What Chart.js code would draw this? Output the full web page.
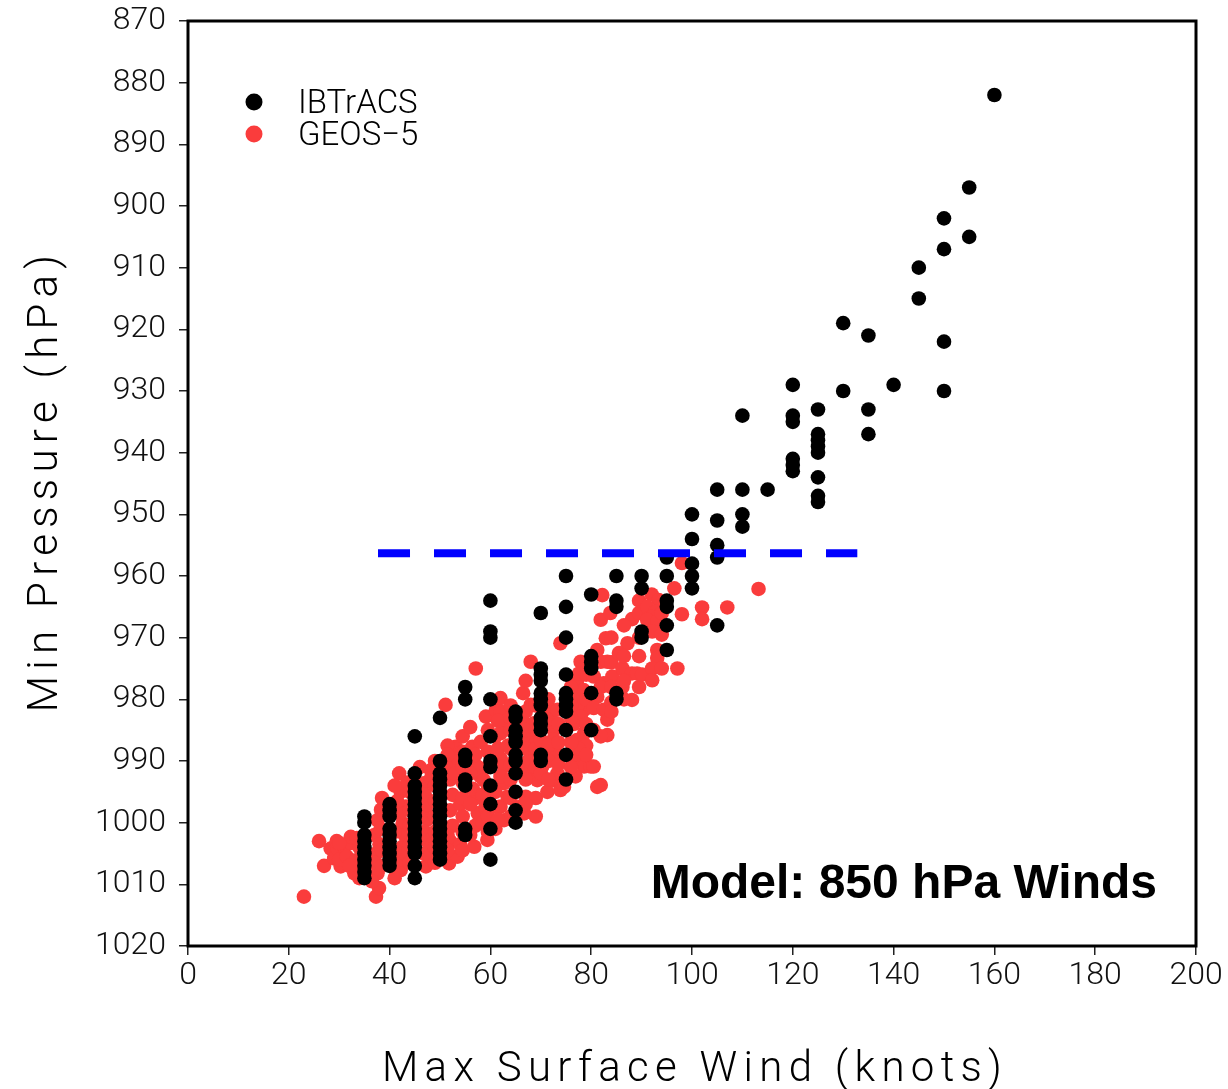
<!DOCTYPE html>
<html lang="en">
<head>
<meta charset="UTF-8">
<title>Min Pressure vs Max Surface Wind</title>
<script src="https://cdn.jsdelivr.net/npm/chart.js"></script>
<style>
  body { margin: 0; background: #ffffff; }
  canvas { display: block; }
</style>
</head>
<body>
<canvas id="grafico" width="1228" height="1089"></canvas>
<script>
// ticks
const xTicks = [0, 20, 40, 60, 80, 100, 120, 140, 160, 180, 200];
const yTicks = [870, 880, 890, 900, 910, 920, 930, 940, 950, 960, 970, 980, 990, 1000, 1010, 1020];

// IBTrACS [wind (knots), min pressure (hPa)]
const ibtracs = [
  [35,999],[35,1000],[35,1002],[35,1003],[35,1004],[35,1005],[35,1006],[35,1007],[35,1008],[35,1009],
  [40,997],[40,998],[40,999],[40,1001],[40,1002],[40,1003],[40,1004],[40,1005],[40,1006],[40,1007],
  [45,986],[45,992],[45,994],[45,995],[45,996],[45,997],[45,998],[45,999],[45,1000],[45,1001],[45,1002],[45,1003],[45,1004],[45,1005],[45,1007],[45,1009],
  [50,983],[50,990],[50,992],[50,993],[50,994],[50,995],[50,996],[50,997],[50,998],[50,999],[50,1000],[50,1001],[50,1002],[50,1003],[50,1004],[50,1005],[50,1006],
  [55,978],[55,980],[55,989],[55,990],[55,993],[55,994],[55,1001],[55,1002],
  [60,964],[60,969],[60,970],[60,980],[60,986],[60,990],[60,991],[60,994],[60,997],[60,1001],[60,1006],
  [65,982],[65,983],[65,985],[65,986],[65,987],[65,989],[65,990],[65,992],[65,995],[65,998],[65,1000],
  [70,966],[70,975],[70,976],[70,977],[70,979],[70,980],[70,981],[70,983],[70,984],[70,985],[70,989],[70,990],
  [75,960],[75,965],[75,970],[75,976],[75,979],[75,980],[75,981],[75,982],[75,985],[75,989],[75,993],
  [80,963],[80,973],[80,974],[80,975],[80,979],[80,985],
  [85,960],[85,964],[85,965],[85,979],[85,980],
  [90,960],[90,962],[90,969],[90,970],
  [95,957],[95,960],[95,964],[95,965],[95,968],[95,972],
  [100,950],[100,954],[100,958],[100,960],[100,962],
  [105,946],[105,951],[105,955],[105,957],[105,968],
  [110,934],[110,946],[110,950],[110,952],
  [115,946],
  [120,929],[120,934],[120,935],[120,941],[120,942],[120,943],
  [125,933],[125,937],[125,938],[125,939],[125,940],[125,944],[125,947],[125,948],
  [130,919],[130,930],
  [135,921],[135,933],[135,937],
  [140,929],
  [145,910],[145,915],
  [150,902],[150,907],[150,922],[150,930],
  [155,897],[155,905],
  [160,882]
];

// GEOS-5 [wind (knots), min pressure (hPa)]
const geos5 = [
  [23,1012],[26,1003],[27,1007],[28.3,1004.2],[29,1005.8],[29.7,1004.2],[30.3,1007.1],[31,1003.9],[30,1006],
  [29.5,1003],[31.5,1005.5],[32.3,1003.3],[33.3,1006.1],[33,1008.2],[32,1007],[34,1004],[32.3,1002.3],
  [30,1003.3],[33.5,1002.5],[34,1009],
  [37.6,999.6],[38.3,997.9],[37.3,1005],[37.6,1008.2],[37.3,1012],[37.9,1010.6],[37,1002],[38,1003.5],
  [37,1006.5],[38.2,1001],[36.5,1009.5],[38.5,996],[38.5,1004.5],[38.5,1007],
  [41.9,992],[42.2,995],[42.6,1000.1],[42.6,1003.9],[42.2,1007.7],[43.2,997.4],[42,998.5],[43,1002],
  [42.5,1006],[43,1005],[41.5,996.5],[43.5,993.5],[41,994],[41,1001.5],[41,1004.5],[41,1009],
  [44,995],[44,998],[44,1000.5],[44,1003.5],[44,1006.5],
  [46.8,993.6],[47.2,997.4],[46.8,1005],[47.2,1007.1],[48.2,991.5],[48.2,992.8],[47,995.5],[47.5,999.5],
  [47,1001.5],[47.5,1003],[48,1005.5],[46,991],[46,999],[46,1002.5],
  [49,990],[49,994],[49,996.5],[49,999],[49,1001.5],[49,1004],[49,1006.5],
  [51.1,980.9],[53.1,987.7],[52.1,990.9],[51.8,1006.6],[53.5,1005.5],[52,993],[52.5,995.5],[52,998],
  [52.5,1000.5],[52,1003],[53.5,989.5],[54,997],[54,1003.5],[53,992],[51.5,987.5],[51.5,989],[51.5,1002],[51.5,1004.5],
  [54.5,986],[54.5,988.5],[54.5,991],[54.5,993.5],[54.5,996],[54.5,999],[54.5,1001.5],[54.5,1004.5],
  [56.4,987.7],[58.1,986.9],[57.4,990.9],[56.8,1003.9],[59.4,1002.8],[57.1,975],[57,996],[57.5,998.5],
  [57,1000.5],[58,992.5],[56.5,994.5],[58.7,993.1],[59.1,982.8],[58.5,995.5],[58.5,1000],[57,989],
  [56,992],[59,997.5],[56,984.5],[56,997],[56,1002],
  [59.5,985],[59.5,988.5],[59.5,991],[59.5,994],[59.5,996],[59.5,999],[59.5,1001.5],
  [61.1,981.7],[62,979.8],[62,982],[63,983.9],[62,989.6],[62.7,993.6],[63.4,995.8],[62,997.4],
  [62.7,990.9],[62,992.5],[62.7,999.6],[61,986],[62,985.5],[61.5,988],[61,1001],[64,999],[63.5,987.5],[61,995],
  [61.5,983.5],[61.5,997.5],[61.5,999.5],
  [64,981],[64,983],[64,985],[64,988],[64,990.5],[64,993],[64,996],
  [68,973.9],[68,980.9],[66.7,983.9],[68.6,983.9],[67.7,986.6],[68.3,988.2],[68,992],[69.3,993.1],
  [67,995.8],[66.7,998.5],[69,999],[66,997.4],[66,991],[66.5,979],[67.5,990],[69,996],[66.5,986],
  [67,977],[67,982],[67,985],[67,988],[67,993],[67,997],[69,981],[69,985],[69,988],[69,991],
  [72,981.7],[72,983.3],[72.6,985],[71.3,983.3],[73.3,981.7],[70,986.6],[72,988.2],[73.3,989],
  [70.3,990.9],[73.3,992],[72.6,993.1],[73.9,994.7],[71.3,995],[73.9,970.9],[70,992],[72.5,986.5],
  [71.5,980],[71.5,987.5],[71.5,990],[71.5,993],[73.5,984],[73.5,987],[73.5,990.5],
  [77.9,973.9],[77.2,976.9],[77.6,975.8],[77.2,979.8],[78.6,981.7],[77.2,981.2],[77.9,982.8],[78.6,985.5],
  [77.2,986.6],[76.6,989.8],[75.9,989.3],[78.6,990.9],[76.9,992.5],[74.6,994.2],[79.9,990.9],[78.5,978.5],
  [76.5,984],[79,987.5],[77.5,988],[76,978],[76,981],[76,983],[76,987],[76,991],
  [79,976],[79,980],[79,984],[79,989],
  [82.2,963.1],[81.9,967.1],[83.8,966],[82.9,970.1],[81.2,972],[81.9,973.9],[83.2,973.9],[80.5,976.3],
  [84.2,976.3],[82.5,977.4],[81.9,978],[81.2,979.6],[80.5,981.4],[82.5,981.7],[83.2,983.3],[80.5,985],
  [83.2,985.8],[81.9,986],[80.5,990.9],[81.9,993.9],[81.2,994.2],[84,980.5],
  [84,970],[84,974],[84,978],[84,982],
  [88.1,967],[87.2,970.9],[86.2,975],[88.1,975.8],[86.2,978],[88.1,980.1],[89.1,975.8],[85.5,972.5],
  [86.5,968],[86.5,973],[86.5,977],[86.5,980],
  [89.5,964],[89.5,966],[89.5,970],[89.5,973],[89.5,978],
  [92,963],[93.4,963.9],[91.1,965],[92.8,965.8],[92,966.6],[91.1,967.1],[93.1,967.4],[92.1,969],
  [93.1,972],[93.1,973.3],[90.1,976],[92.1,975],[92.1,976.9],[94,969.5],[94,966],[94,975],
  [96.5,962],
  [98,957.9],[98,966.2],[97.1,975],[102,965.1],[102,967],[107,965.1],[113.2,962.1]
];

// dashed reference line (blue)
const refLine = [[37.7, 956.3], [132.8, 956.3]];

const labelFont = 'Roboto';
const toXY = arr => arr.map(p => ({ x: p[0], y: p[1] }));

const extras = {
  id: 'extras',
  afterDraw(chart) {
    const ctx = chart.ctx;
    const a = chart.chartArea;
    ctx.save();
    // frame
    ctx.strokeStyle = '#000';
    ctx.lineWidth = 3;
    ctx.strokeRect(a.left, a.top, a.right - a.left, a.bottom - a.top);

    // legend
    ctx.fillStyle = '#000';
    ctx.beginPath(); ctx.arc(254, 102, 8.5, 0, Math.PI * 2); ctx.fill();
    ctx.fillStyle = 'rgb(250,60,60)';
    ctx.beginPath(); ctx.arc(254, 134, 8.5, 0, Math.PI * 2); ctx.fill();
    ctx.fillStyle = '#000';
    ctx.font = '300 33px ' + labelFont;
    ctx.textAlign = 'left';
    ctx.textBaseline = 'alphabetic';
    ctx.fillText('IBTrACS', 298, 113);
    ctx.fillText('GEOS\u22125', 298, 145);

    // annotation
    ctx.font = 'bold 48px "Liberation Sans", Arial, sans-serif';
    ctx.textAlign = 'right';
    ctx.fillText('Model: 850 hPa Winds', 1157, 898);

    // axis titles
    ctx.font = '300 42px ' + labelFont;
    ctx.letterSpacing = '6.3px';
    ctx.textAlign = 'center';
    ctx.fillText('Max Surface Wind (knots)', (a.left + a.right) / 2 + 3, 1081);
    ctx.translate(57, (a.top + a.bottom) / 2);
    ctx.rotate(-Math.PI / 2);
    ctx.fillText('Min Pressure (hPa)', 3, 0);
    ctx.restore();
  }
};

const tickStyle = { family: labelFont, size: 32, weight: 300 };

new Chart(document.getElementById('grafico'), {
  type: 'scatter',
  data: {
    datasets: [
      {
        type: 'line',
        label: 'ref',
        data: toXY(refLine),
        borderColor: '#0000ff',
        borderWidth: 8,
        borderDash: [32, 24],
        borderCapStyle: 'butt',
        pointRadius: 0,
        fill: false
      },
      {
        label: 'IBTrACS',
        data: toXY(ibtracs),
        backgroundColor: '#000000',
        pointRadius: 7.3,
        pointBorderWidth: 0
      },
      {
        label: 'GEOS-5',
        data: toXY(geos5),
        backgroundColor: 'rgb(250,60,60)',
        pointRadius: 7.3,
        pointBorderWidth: 0
      }
    ]
  },
  options: {
    responsive: false,
    animation: false,
    devicePixelRatio: 1,
    layout: { padding: { left: 0, right: 32, top: 21, bottom: 0 } },
    plugins: {
      legend: { display: false },
      tooltip: { enabled: false }
    },
    scales: {
      x: {
        type: 'linear',
        min: xTicks[0],
        max: xTicks[xTicks.length - 1],
        afterBuildTicks: axis => { axis.ticks = xTicks.map(v => ({ value: v })); },
        afterFit: axis => { axis.height = 143; axis.paddingLeft = 0; axis.paddingRight = 0; },
        ticks: { color: '#111', font: tickStyle, padding: 2, maxRotation: 0, callback: v => String(v) },
        grid: { drawOnChartArea: false, drawTicks: true, tickLength: 9, color: '#222', lineWidth: 1.5 },
        border: { display: false }
      },
      y: {
        type: 'linear',
        reverse: true,
        min: yTicks[0],
        max: yTicks[yTicks.length - 1],
        afterBuildTicks: axis => { axis.ticks = yTicks.map(v => ({ value: v })); },
        afterFit: axis => { axis.width = 188; axis.paddingTop = 0; axis.paddingBottom = 0; },
        ticks: { color: '#111', font: tickStyle, padding: 13, callback: v => String(v) },
        grid: { drawOnChartArea: false, drawTicks: true, tickLength: 9, color: '#222', lineWidth: 1.5 },
        border: { display: false }
      }
    }
  },
  plugins: [extras]
});
</script>
</body>
</html>
